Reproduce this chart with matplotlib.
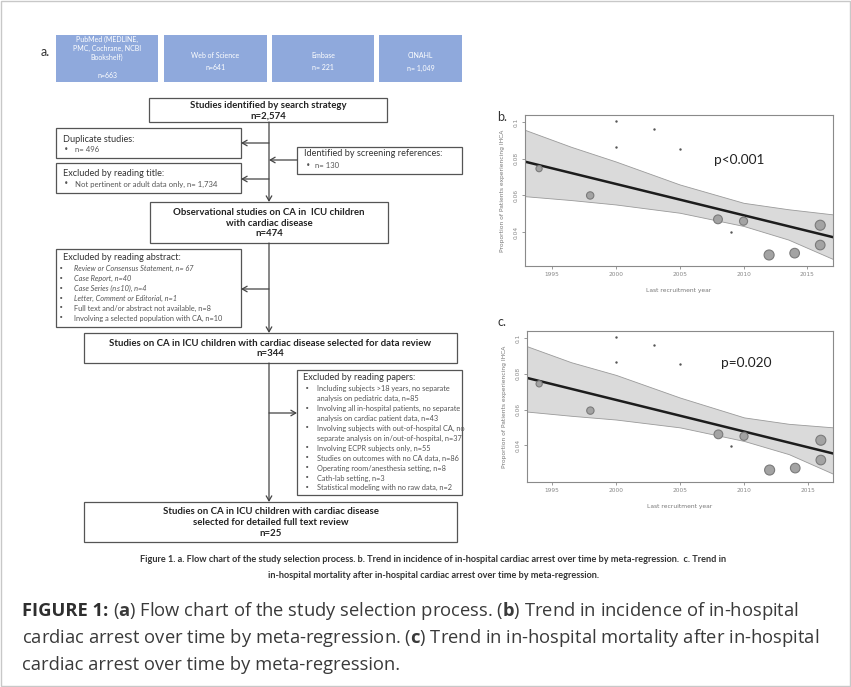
import matplotlib
matplotlib.use("Agg")
import matplotlib.pyplot as plt
from matplotlib.patches import Rectangle

W, H = 851, 687

# === Flow chart content ===
db_names = ["PubMed (MEDLINE,\nPMC, Cochrane, NCBI\nBookshelf)", "Web of Science", "Embase", "CINAHL"]
db_counts = ["n=663", "n=641", "n= 221", "n= 1,049"]

main_steps = [
    "Studies identified by search strategy\nn=2,574",
    "Observational studies on CA in  ICU children\nwith cardiac disease\nn=474",
    "Studies on CA in ICU children with cardiac disease selected for data review\nn=344",
    "Studies on CA in ICU children with cardiac disease\nselected for detailed full text review\nn=25",
]

dup_title = "Duplicate studies:"
dup_items = ["n= 496"]
screen_title = "Identified by screening references:"
screen_items = ["n= 130"]
title_title = "Excluded by reading title:"
title_items = ["Not pertinent or adult data only, n= 1,734"]
abstract_title = "Excluded by reading abstract:"
abstract_items = [
    ("Review or Consensus Statement, n= 67", "italic"),
    ("Case Report, n=40", "italic"),
    ("Case Series (n\u226410), n=4", "italic"),
    ("Letter, Comment or Editorial, n=1", "italic"),
    ("Full text and/or abstract not available, n=8", "normal"),
    ("Involving a selected population with CA, n=10", "normal"),
]
papers_title = "Excluded by reading papers:"
papers_items = [
    "Including subjects >18 years, no separate\nanalysis on pediatric data, n=85",
    "Involving all in-hospital patients, no separate\nanalysis on cardiac patient data, n=43",
    "Involving subjects with out-of-hospital CA, no\nseparate analysis on in/out-of-hospital, n=37",
    "Involving ECPR subjects only, n=55",
    "Studies on outcomes with no CA data, n=86",
    "Operating room/anesthesia setting, n=8",
    "Cath-lab setting, n=3",
    "Statistical modeling with no raw data, n=2",
]

# === Meta-regression panel b (incidence) ===
years_b = [1994, 1998, 2008, 2010, 2012, 2014, 2016, 2016]
prop_b = [0.0746, 0.060, 0.047, 0.046, 0.0276, 0.0286, 0.0438, 0.033]
size_b = [20, 28, 40, 34, 52, 48, 52, 48]
small_years_b = [2000, 2000, 2003, 2005, 2009]
small_prop_b = [0.1005, 0.0865, 0.096, 0.0855, 0.040]
band_years_b = [1992.9, 1996.5, 2000, 2005, 2010, 2013.5, 2017]
band_up_b = [0.0957, 0.0865, 0.0785, 0.066, 0.056, 0.0525, 0.0497]
band_lo_b = [0.0596, 0.0575, 0.0551, 0.0506, 0.0434, 0.036, 0.0254]
line_years_b = [1992.9, 2017]
line_b = [0.0784, 0.0373]

# === Meta-regression panel c (mortality) ===
years_c = [1994, 1998, 2008, 2010, 2012, 2014, 2016, 2016]
prop_c = [0.0744, 0.0594, 0.0461, 0.045, 0.0261, 0.0272, 0.0428, 0.0317]
size_c = [20, 28, 40, 34, 52, 48, 52, 48]
small_years_c = [2000, 2000, 2003, 2005, 2009]
small_prop_c = [0.1005, 0.0867, 0.0961, 0.0856, 0.0394]
band_years_c = [1993, 1996.5, 2000, 2005, 2010, 2013.5, 2017]
band_up_c = [0.0956, 0.0865, 0.0794, 0.0667, 0.0556, 0.052, 0.050]
band_lo_c = [0.0589, 0.0565, 0.0544, 0.050, 0.0424, 0.035, 0.0239]
line_years_c = [1993, 2017]
line_c = [0.0778, 0.0353]

x_ticks = [1995, 2000, 2005, 2010, 2015]
y_ticks = [0.04, 0.06, 0.08, 0.1]
y_tick_labels = ["0.04", "0.06", "0.08", "0.1"]

# journal caption, first piece of line 1 is bold
cap_head = "FIGURE 1:"
cap_lines = [
    r"($\mathbf{a}$) Flow chart of the study selection process. ($\mathbf{b}$) Trend in incidence of in-hospital",
    r"cardiac arrest over time by meta-regression. ($\mathbf{c}$) Trend in in-hospital mortality after in-hospital",
    "cardiac arrest over time by meta-regression.",
]
CAP_FONT = "Open Sans"

plt.rcParams["mathtext.fontset"] = "custom"
plt.rcParams["mathtext.rm"] = CAP_FONT
plt.rcParams["mathtext.bf"] = CAP_FONT + ":bold"
plt.rcParams["mathtext.it"] = CAP_FONT + ":italic"

fig = plt.figure(figsize=(W / 100, H / 100), dpi=100)
ax = fig.add_axes([0, 0, 1, 1])
ax.set_xlim(0, W)
ax.set_ylim(H, 0)
ax.axis("off")


def px_rect(x0, y0, x1, y1):
    return [x0 / W, 1 - y1 / H, (x1 - x0) / W, (y1 - y0) / H]


def box(x0, y0, x1, y1, fc="white", ec="#555555", lw=0.9):
    ax.add_patch(Rectangle((x0, y0), x1 - x0, y1 - y0, fc=fc, ec=ec, lw=lw))


def arrow(x0, y0, x1, y1):
    ax.annotate("", xy=(x1, y1), xytext=(x0, y0),
                arrowprops=dict(arrowstyle="->,head_length=0.35,head_width=0.2",
                                color="#444444", lw=0.9, shrinkA=0, shrinkB=0))


def bullet_box(x0, y0, x1, y1, title, items, title_x, bullet_x, text_x, ty, dy, size=5.6):
    box(x0, y0, x1, y1)
    ax.text(title_x, ty, title, fontsize=6.6, family="Lato", color="#333333", va="center")
    y = ty + dy * 1.1
    for it in items:
        if isinstance(it, tuple):
            txt, style = it
        else:
            txt, style = it, "normal"
        ax.text(bullet_x, y, "\u2022", fontsize=size, family="DejaVu Sans", color="#555555", va="center")
        for ln in txt.split("\n"):
            ax.text(text_x, y, ln, fontsize=size, family="Lato", style=style, color="#555555", va="center")
            y += dy


# --- frame ---
ax.add_patch(Rectangle((1, 1), W - 2, H - 2, fc="none", ec="#c8c8c8", lw=1))

# --- database boxes ---
ax.text(45, 52, "a.", fontsize=9, family="Lato", color="#333333", va="center", ha="center")
db_x = [(56, 158), (164, 267), (272, 374), (379, 462)]
for (x0, x1), name, cnt in zip(db_x, db_names, db_counts):
    box(x0, 35, x1, 82, fc="#8fa9dc", ec="none")
    multi = "\n" in name
    ax.text((x0 + x1) / 2, 48 if multi else 55, name, fontsize=5, family="Lato", color="white",
            ha="center", va="center", linespacing=1.3)
    ax.text((x0 + x1) / 2, 75 if multi else 68, cnt, fontsize=5, family="Lato",
            color="white", ha="center", va="center")

# --- main boxes ---
main_pos = [(149, 98, 387, 122), (150, 202, 388, 243), (84, 333, 457, 363), (84, 502, 457, 542)]
for (x0, y0, x1, y1), txt in zip(main_pos, main_steps):
    box(x0, y0, x1, y1)
    ax.text((x0 + x1) / 2, (y0 + y1) / 2 + 0.5, txt, fontsize=6.9, family="Lato", weight="bold",
            color="#222222", ha="center", va="center", linespacing=1.25)

main_x = 269
arrow(main_x, 122, main_x, 202)
arrow(main_x, 243, main_x, 333)
arrow(main_x, 363, main_x, 502)

# --- side boxes ---
bullet_box(56, 128, 241, 158, dup_title, dup_items, 63, 64, 75, 139, 9.5)
bullet_box(56, 163, 241, 193, title_title, title_items, 63, 64, 75, 173, 10)
bullet_box(297, 147, 462, 174, screen_title, screen_items, 304, 306, 315, 154, 10)
bullet_box(56, 249, 241, 327, abstract_title, abstract_items, 63, 59, 74, 258, 9.9, size=5.3)
bullet_box(297, 370, 462, 495, papers_title, papers_items, 303, 305, 317, 378, 9.9, size=5.3)

arrow(main_x, 143, 241, 143)
arrow(main_x, 179, 241, 179)
arrow(297, 160, main_x, 160)
arrow(main_x, 289, 241, 289)
arrow(main_x, 413, 297, 413)

# --- caption of the scanned figure ---
ax.text(433, 560, "Figure 1. a. Flow chart of the study selection process. b. Trend in incidence of in-hospital "
        "cardiac arrest over time by meta-regression.  c. Trend in", fontsize=6.6, family="Lato",
        weight="bold", color="#333333", ha="center", va="center")
ax.text(433, 575, "in-hospital mortality after in-hospital cardiac arrest over time by meta-regression.",
        fontsize=6.6, family="Lato", weight="bold", color="#333333", ha="center", va="center")


# === Meta-regression panels ===
def trend_panel(rect, years, props, sizes, sm_years, sm_props, band_years, band_up, band_lo,
                line_years, line_vals, xlim, ylim, ptext, ppos):
    axp = fig.add_axes(px_rect(*rect))
    axp.fill_between(band_years, band_lo, band_up, color="#dadada", ec="#9a9a9a", lw=0.6)
    axp.plot(line_years, line_vals, color="#1c1c1c", lw=1.8)
    axp.scatter(years, props, s=sizes, c="#a3a3a3", edgecolors="#7a7a7a", linewidths=0.8, zorder=3)
    axp.scatter(sm_years, sm_props, s=3, c="#555555", linewidths=0, zorder=3)
    axp.set_xlim(*xlim)
    axp.set_ylim(*ylim)
    axp.set_xticks(x_ticks)
    axp.set_yticks(y_ticks)
    axp.set_yticklabels(y_tick_labels, rotation=90, va="center")
    axp.tick_params(labelsize=4.2, colors="#888888", length=2.5, width=0.6, pad=2)
    for sp in axp.spines.values():
        sp.set_color("#8a8a8a")
        sp.set_linewidth(0.8)
    axp.set_xlabel("Last recruitment year", fontsize=4.3, color="#777777", labelpad=8)
    axp.set_ylabel("Proportion of Patients experiencing IHCA", fontsize=4.3, color="#777777", labelpad=6)
    axp.text(ppos[0], ppos[1], ptext, transform=axp.transAxes, fontsize=9.8, family="Lato",
             color="#222222", ha="center", va="center")
    return axp


trend_panel((525, 115, 833, 266), years_b, prop_b, size_b, small_years_b, small_prop_b,
            band_years_b, band_up_b, band_lo_b, line_years_b, line_b,
            (1992.9, 2017.0), (0.0216, 0.1038), "p<0.001", (0.695, 0.70))
trend_panel((527, 331, 833, 482), years_c, prop_c, size_c, small_years_c, small_prop_c,
            band_years_c, band_up_c, band_lo_c, line_years_c, line_c,
            (1993.05, 2016.95), (0.0194, 0.104), "p=0.020", (0.716, 0.79))

ax.text(502, 117, "b.", fontsize=9, family="Lato", color="#333333", ha="center", va="center")
ax.text(502, 322, "c.", fontsize=9, family="Lato", color="#333333", ha="center", va="center")

# === Journal caption ===
cap_size = 13.2
cap_y0, cap_dy = 616, 27
head = ax.text(22, cap_y0, cap_head, fontsize=cap_size, family=CAP_FONT, weight="bold",
               color="#2e2e2e", va="baseline")
fig.canvas.draw()
head_right = head.get_window_extent().x1
for i, ln in enumerate(cap_lines):
    x = head_right + 5 if i == 0 else 22
    ax.text(x, cap_y0 + i * cap_dy, ln, fontsize=cap_size, family=CAP_FONT, color="#3a3a3a",
            va="baseline")

fig.savefig("out.png", dpi=100)
